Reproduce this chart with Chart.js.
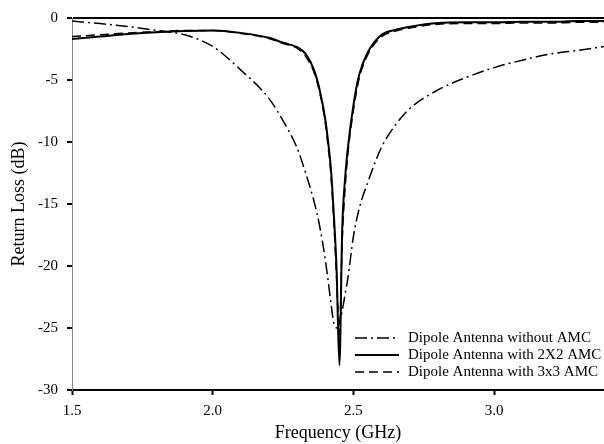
<!DOCTYPE html>
<html>
<head>
<meta charset="utf-8">
<script src="https://cdn.jsdelivr.net/npm/chart.js@4"></script>
<style>
  html, body { margin: 0; padding: 0; background: #fff; }
  #wrap { width: 604px; height: 444px; }
</style>
</head>
<body>
<div id="wrap"><canvas id="rlChart" width="604" height="444"></canvas></div>
<script>
// frequency points (GHz)
var freq = [1.5, 1.6, 1.7, 1.8, 1.9, 2.0, 2.1, 2.2, 2.25, 2.3, 2.33, 2.36, 2.38, 2.4, 2.41, 2.42, 2.43, 2.44, 2.45,
            2.46, 2.47, 2.48, 2.5, 2.52, 2.55, 2.6, 2.65, 2.7, 2.8, 2.9, 3.0, 3.1, 3.2, 3.3, 3.39];

// return loss (dB)
var noAmc = [-0.25, -0.45, -0.7, -1.0, -1.35, -2.3, -4.2, -6.5, -8.3, -10.5, -12.5, -14.8, -16.8, -19.5, -21.2, -23.0, -24.6, -25.0, -24.6,
             -23.6, -22.3, -21.0, -17.6, -15.4, -13.3, -10.4, -8.6, -7.3, -5.8, -4.8, -4.0, -3.4, -2.9, -2.6, -2.3];
var amc2x2 = [-1.7, -1.5, -1.3, -1.15, -1.05, -1.0, -1.2, -1.6, -2.0, -2.35, -2.9, -4.2, -5.8, -8.2, -10.0, -12.2, -15.8, -20.3, -28.0,
              -17.0, -13.0, -10.5, -7.0, -4.6, -2.8, -1.35, -0.95, -0.7, -0.4, -0.35, -0.35, -0.3, -0.3, -0.25, -0.25];
var amc3x3 = [-1.5, -1.35, -1.2, -1.1, -1.0, -1.0, -1.25, -1.65, -2.05, -2.45, -3.1, -4.4, -6.0, -8.5, -10.4, -12.7, -16.4, -21.0, -25.5,
              -18.0, -13.8, -11.0, -7.4, -4.9, -3.0, -1.5, -1.05, -0.8, -0.5, -0.45, -0.45, -0.4, -0.4, -0.35, -0.35];

var seriesNames = ["Dipole Antenna without AMC", "Dipole Antenna with 2X2 AMC", "Dipole Antenna with 3x3 AMC"];
var xTicks = [1.5, 2.0, 2.5, 3.0];
var yTicks = [-30, -25, -20, -15, -10, -5, 0];

var serif = "'Liberation Serif', 'Times New Roman', serif";

function pts(ys) {
	return freq.map(function(f, i){ return { x: f, y: ys[i] }; });
}

// legend drawn inside the plot, bottom right
var innerLegend = {
	id: 'innerLegend',
	afterDatasetsDraw: function(chart) {
		var ctx = chart.ctx;
		var area = chart.chartArea;
		var x0 = area.left + 283, y0 = area.bottom - 52;
		ctx.save();
		ctx.font = "15px " + serif;
		ctx.textBaseline = 'middle';
		ctx.fillStyle = '#000';
		chart.data.datasets.forEach(function(ds, i){
			var y = y0 + i * 17;
			ctx.beginPath();
			ctx.setLineDash(ds.borderDash || []);
			ctx.lineWidth = ds.borderWidth;
			ctx.strokeStyle = ds.borderColor;
			ctx.moveTo(x0, y);
			ctx.lineTo(x0 + 44, y);
			ctx.stroke();
			ctx.setLineDash([]);
			ctx.fillText(ds.label, x0 + 53, y);
		});
		ctx.restore();
	}
};

var ctx = document.getElementById('rlChart').getContext('2d');

new Chart(ctx, {
	type: 'line',
	data: {
		datasets: [
			{
				label: seriesNames[0],
				data: pts(noAmc),
				borderColor: '#000',
				borderWidth: 1.5,
				borderDash: [12, 4, 2, 4],
				pointRadius: 0,
				cubicInterpolationMode: 'monotone',
				fill: false
			},
			{
				label: seriesNames[1],
				data: pts(amc2x2),
				borderColor: '#000',
				borderWidth: 2,
				pointRadius: 0,
				cubicInterpolationMode: 'monotone',
				fill: false
			},
			{
				label: seriesNames[2],
				data: pts(amc3x3),
				borderColor: '#000',
				borderWidth: 1.5,
				borderDash: [9, 5],
				pointRadius: 0,
				cubicInterpolationMode: 'monotone',
				fill: false
			}
		]
	},
	options: {
		responsive: false,
		animation: false,
		layout: { padding: { top: 16, right: 0, left: 0, bottom: 0 } },
		plugins: {
			legend: false,
			tooltip: { enabled: false }
		},
		scales: {
			x: {
				type: 'linear',
				min: 1.5,
				max: 3.39,
				afterBuildTicks: function(scale){
					scale.ticks = xTicks.map(function(v){ return { value: v }; });
				},
				afterFit: function(scale){ scale.height = 54; },
				border: { color: '#000', width: 2 },
				grid: { drawOnChartArea: false, drawTicks: true, tickLength: 5, tickColor: '#000', tickWidth: 2 },
				ticks: {
					color: '#000',
					font: { family: serif, size: 15 },
					padding: 7,
					maxRotation: 0,
					callback: function(v){ return v.toFixed(1); }
				},
				title: {
					display: true,
					text: 'Frequency (GHz)',
					color: '#000',
					font: { family: serif, size: 18 },
					padding: { top: 0, bottom: 0 }
				}
			},
			y: {
				min: -30,
				max: 0,
				afterBuildTicks: function(scale){
					scale.ticks = yTicks.map(function(v){ return { value: v }; });
				},
				afterFit: function(scale){ scale.width = 72; },
				border: { color: '#888', width: 1 },
				grid: {
					drawOnChartArea: true,
					drawTicks: true,
					tickLength: 5,
					tickColor: '#000',
					tickWidth: 2,
					color: function(c){ return (c.tick && c.tick.value === 0) ? '#000' : 'rgba(0,0,0,0)'; },
					lineWidth: 2
				},
				ticks: {
					color: '#000',
					font: { family: serif, size: 15 },
					padding: 9
				},
				title: {
					display: true,
					text: 'Return Loss (dB)',
					color: '#000',
					font: { family: serif, size: 18 },
					padding: { top: 8, bottom: 0 }
				}
			}
		}
	},
	plugins: [innerLegend]
});
</script>
</body>
</html>
